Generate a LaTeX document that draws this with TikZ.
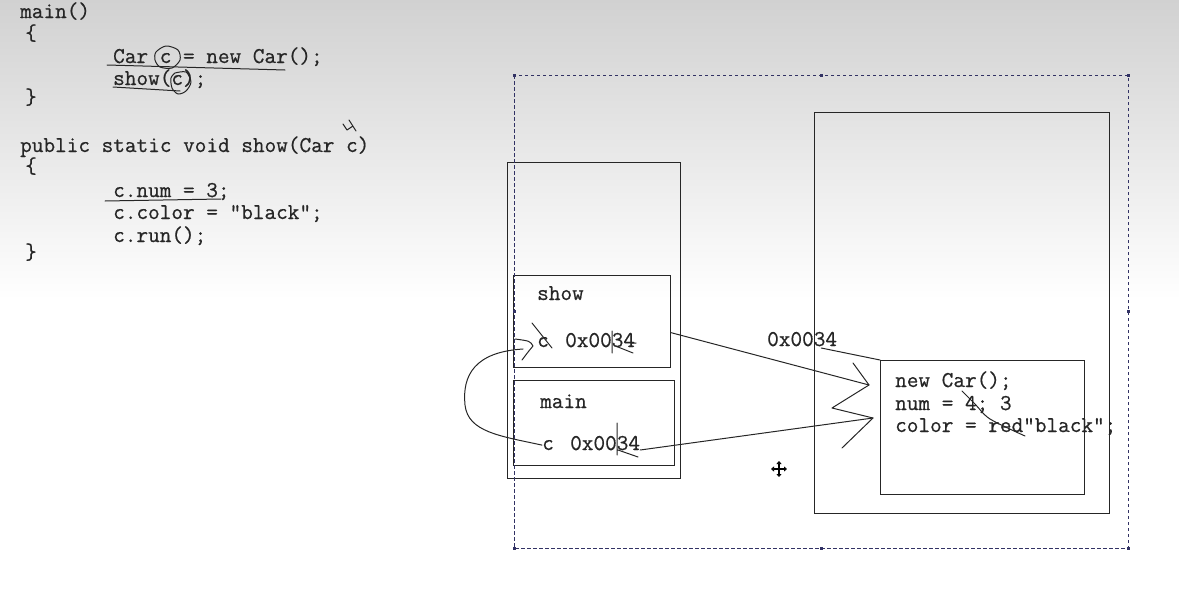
\documentclass[tikz,border=0pt]{standalone}
\usepackage{fontspec}
\setmonofont[FakeBold=0.6]{Latin Modern Mono}
\usetikzlibrary{arrows.meta,positioning,calc}
\definecolor{selcol}{RGB}{50,50,100}

\begin{document}
\begin{tikzpicture}[x=1pt,y=-1pt,>=Stealth,
  every node/.style={font=\ttfamily\fontsize{22.6}{24}\selectfont,text=black!85,inner sep=0pt,anchor=base west},
  box/.style={draw=black!85,line width=1.1pt,anchor=north west},
  ink/.style={draw=black!85,line width=1pt,line cap=round,line join=round},
  sel/.style={draw=selcol,line width=0.9pt,dash pattern=on 3.5pt off 2.5pt}]
  \useasboundingbox (0,0) rectangle (1179,597);
  \fill[top color=black!18,bottom color=white] (0,0) rectangle (1179,300);

  % code
  \node (lmain) at (20,18) {main()};
  \node (lbra) at (25,40) {\{};
  \node (lcar) at (113,63) {Car c = new Car();};
  \node (lcall) at (113,85) {show(c);};
  \node (lket) at (25,104) {\}};
  \node (lsig) at (20,152) {public static void show(Car c)};
  \node (lbrb) at (25,173) {\{};
  \node (lnum) at (113,197) {c.num = 3;};
  \node (lcol) at (113,219) {c.color = ”black”;};
  \node (lrun) at (113,242) {c.run();};
  \node (lketb) at (25,259) {\}};

  % pen marks on the code
  \draw[ink] (107,65) -- (285,70);
  \draw[ink] (113,87) -- (180,91);
  \draw[ink] (105,201) -- (221,199);
  \draw[ink] plot[smooth cycle] coordinates {(156,52) (166,46) (178,50) (180,60) (172,68) (160,67) (155,60)};
  \draw[ink] plot[smooth] coordinates {(175,73) (186,72) (191,82) (186,91) (178,94) (172,88) (171,78) (175,73)};
  \draw[ink] (343,124) -- (347,130) -- (353,126) (349,120) -- (356,131);

  % memory
  \node[box,minimum width=173pt,minimum height=316pt] (stack) at (507,162) {};
  \node[box,minimum width=157pt,minimum height=92pt] (showf) at (513,275) {};
  \node[box,minimum width=161pt,minimum height=85pt] (mainf) at (513,380) {};
  \node[box,minimum width=295pt,minimum height=401pt] (heap) at (814,112) {};
  \node[box,minimum width=204pt,minimum height=134pt] (obj) at (880,360) {};

  \node (tshow) at (537,300) {show};
  \node (cshow) at (537,347) {c};
  \node (ashow) at (565,347) {0x0034};
  \node (tmain) at (540,408) {main};
  \node (cmain) at (542,450) {c};
  \node (amain) at (570,450) {0x0034};
  \node (aheap) at (767,346) {0x0034};
  \node (onew) at (895,387) {new Car();};
  \node (onum) at (895,410) {num = 4; 3};
  \node (ocol) at (895,432) {color = red”black”;};

  % corrections
  \draw[ink] (532,323) -- (552,348);
  \draw[ink] (612,331) -- (612,353) (618,347) -- (633,353) (632,343) -- (636,343);
  \draw[ink] (617,423) -- (617,455) (618,450) -- (638,457);
  \draw[ink] plot[smooth] coordinates {(962,391) (975,404) (990,419) (1025,436)};

  % references
  \coordinate (tipa) at (869,385);
  \coordinate (tipb) at (873,418);
  \draw[ink] (showf.east |- ashow.north) -- (tipa);
  \draw[ink] (amain.base east) -- (tipb);
  \draw[ink] (853,363) -- (tipa) -- (832,408) -- (tipb) -- (842,448);
  \draw[ink] ($(aheap.base east)+(-16,2)$) -- (obj.north west);
  \draw[ink] (cmain.west) .. controls (500,436) and (468,432) .. (465,405)
    .. controls (462,375) and (475,352) .. (523,349);
  \draw[ink] (515,339) .. controls (530,341) .. (533,346) .. controls (528,352) .. (522,360);

  % selection
  \draw[sel] (514,75) rectangle (1128,548);
  \foreach \x/\y in {514/75,821/75,1128/75,514/311,1128/311,514/548,821/548,1128/548}
    \fill[selcol] (\x-1.5,\y-1.5) rectangle (\x+1.5,\y+1.5);

  % cursor
  \coordinate (cur) at (779,469);
  \draw[line width=1.6pt,-{Triangle[length=3pt,width=5pt]}] (cur) -- ++(0,-8);
  \draw[line width=1.6pt,-{Triangle[length=3pt,width=5pt]}] (cur) -- ++(0,8);
  \draw[line width=1.6pt,-{Triangle[length=3pt,width=5pt]}] (cur) -- ++(-8,0);
  \draw[line width=1.6pt,-{Triangle[length=3pt,width=5pt]}] (cur) -- ++(8,0);
\end{tikzpicture}
\end{document}
